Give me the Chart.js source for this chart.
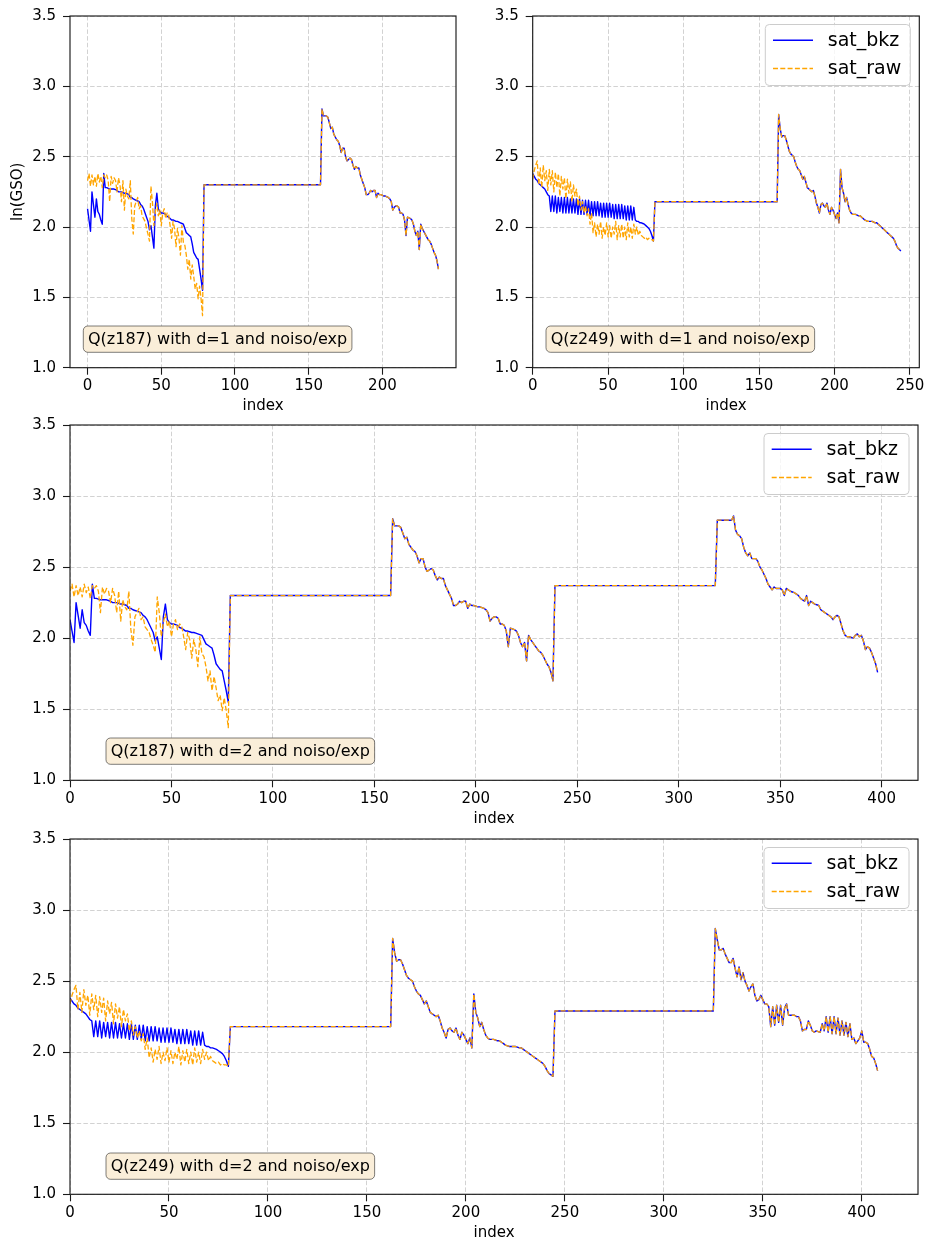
<!DOCTYPE html>
<html>
<head>
<meta charset="utf-8">
<title>sat_bkz vs sat_raw</title>
<script src="https://cdn.jsdelivr.net/npm/chart.js@4.4.1/dist/chart.umd.min.js"></script>
<style>
  body { margin: 0; background: #fff; }
  #fig { position: relative; width: 928px; height: 1246px; }
  #fig canvas { position: absolute; left: 0; top: 0; }
</style>
</head>
<body>
<div id="fig">
  <canvas id="c1" width="928" height="1246"></canvas>
  <canvas id="c2" width="928" height="1246"></canvas>
  <canvas id="c3" width="928" height="1246"></canvas>
  <canvas id="c4" width="928" height="1246"></canvas>
</div>
<script>
// ---- data ----
// Q(z187): noisy head (index 0..78), flat 79..158, tail 159..238, flat 239..318, tail 319..398
const z187HeadBkz = [2.13, 2.05, 1.97, 2.25, 2.16, 2.07, 2.20, 2.11, 2.09, 2.05,
  2.02, 2.38, 2.28, 2.28, 2.275, 2.27, 2.27, 2.27, 2.27, 2.265,
  2.26, 2.25, 2.25, 2.25, 2.245, 2.24, 2.24, 2.235, 2.23, 2.21,
  2.21, 2.20, 2.195, 2.19, 2.185, 2.18, 2.16, 2.15, 2.13, 2.10,
  2.07, 2.04, 1.98, 2.01, 1.93, 1.85, 2.15, 2.24, 2.13, 2.11,
  2.10, 2.10, 2.095, 2.09, 2.075, 2.07, 2.06, 2.05, 2.05, 2.045,
  2.04, 2.04, 2.035, 2.03, 2.025, 2.02, 1.99, 1.96, 1.95, 1.94,
  1.93, 1.88, 1.82, 1.80, 1.78, 1.77, 1.70, 1.63, 1.55]
const z187HeadRaw = [2.33, 2.38, 2.29, 2.37, 2.30, 2.36, 2.29, 2.38, 2.32, 2.36,
  2.28, 2.37, 2.35, 2.37, 2.33, 2.18, 2.36, 2.31, 2.35, 2.33,
  2.25, 2.35, 2.30, 2.18, 2.33, 2.12, 2.27, 2.22, 2.20, 2.33,
  2.06, 1.95, 2.15, 2.18, 2.21, 2.13, 2.15, 2.08, 2.06, 2.04,
  1.99, 1.95, 1.90, 2.29, 2.18, 2.01, 2.11, 2.17, 2.08, 2.12,
  2.01, 2.10, 2.13, 2.06, 2.10, 2.09, 2.01, 1.92, 2.04, 1.99,
  1.86, 1.99, 1.92, 1.80, 2.01, 1.89, 1.87, 1.80, 1.70, 1.77,
  1.63, 1.73, 1.65, 1.56, 1.60, 1.49, 1.58, 1.49, 1.37]
const z187Tail1 = [2.84, 2.79, 2.79, 2.79, 2.78, 2.74, 2.70, 2.71, 2.66, 2.64,
  2.62, 2.61, 2.58, 2.53, 2.56, 2.56, 2.50, 2.47, 2.48, 2.49,
  2.48, 2.44, 2.41, 2.43, 2.42, 2.42, 2.37, 2.34, 2.31, 2.28,
  2.23, 2.23, 2.24, 2.26, 2.25, 2.26, 2.26, 2.21, 2.24, 2.23,
  2.23, 2.225, 2.22, 2.22, 2.215, 2.21, 2.20, 2.18, 2.12, 2.14,
  2.15, 2.15, 2.14, 2.10, 2.10, 2.09, 2.05, 1.94, 2.07, 2.065,
  2.06, 2.05, 2.02, 1.97, 1.94, 1.97, 1.84, 2.02, 1.99, 1.97,
  1.95, 1.93, 1.91, 1.90, 1.88, 1.85, 1.82, 1.80, 1.76, 1.70]
const z187Tail2 = [2.83, 2.83, 2.83, 2.83, 2.83, 2.83, 2.83, 2.83, 2.86, 2.76,
  2.73, 2.72, 2.70, 2.64, 2.60, 2.58, 2.60, 2.56, 2.56, 2.56,
  2.54, 2.50, 2.48, 2.45, 2.42, 2.38, 2.36, 2.34, 2.36, 2.35,
  2.35, 2.35, 2.34, 2.30, 2.35, 2.34, 2.33, 2.325, 2.32, 2.31,
  2.30, 2.28, 2.27, 2.26, 2.30, 2.23, 2.26, 2.25, 2.24, 2.235,
  2.23, 2.20, 2.19, 2.18, 2.17, 2.16, 2.15, 2.13, 2.15, 2.16,
  2.15, 2.10, 2.05, 2.02, 2.01, 2.01, 2.005, 2.00, 2.02, 2.03,
  2.01, 2.02, 1.98, 1.92, 1.94, 1.93, 1.90, 1.86, 1.82, 1.76]
const z187Starts = [0, 79, 159, 239, 319]   // first index of each block
const z187Flats = [2.30, 2.37]

// Q(z249): noisy head (0..80), flat 81..162, tail 163..244, flat 245..325, tail 326..408
const z249HeadBkz = [2.38, 2.36, 2.34, 2.33, 2.31, 2.30, 2.29, 2.28, 2.27, 2.25,
  2.23, 2.22, 2.11, 2.22, 2.11, 2.22, 2.10, 2.21, 2.11, 2.21,
  2.10, 2.21, 2.10, 2.21, 2.10, 2.20, 2.10, 2.20, 2.10, 2.20,
  2.09, 2.20, 2.09, 2.19, 2.09, 2.19, 2.09, 2.19, 2.08, 2.18,
  2.08, 2.18, 2.08, 2.18, 2.08, 2.17, 2.07, 2.17, 2.07, 2.17,
  2.07, 2.17, 2.07, 2.16, 2.06, 2.16, 2.06, 2.16, 2.06, 2.16,
  2.06, 2.15, 2.05, 2.15, 2.05, 2.15, 2.05, 2.14, 2.05, 2.04,
  2.04, 2.03, 2.03, 2.025, 2.02, 2.01, 2.00, 1.99, 1.97, 1.94,
  1.90]
const z249HeadRaw = [2.34, 2.40, 2.44, 2.47, 2.30, 2.42, 2.28, 2.44, 2.33, 2.40,
  2.26, 2.41, 2.30, 2.40, 2.25, 2.39, 2.28, 2.38, 2.22, 2.36,
  2.27, 2.35, 2.20, 2.34, 2.24, 2.32, 2.18, 2.30, 2.22, 2.27,
  2.15, 2.22, 2.12, 2.18, 2.10, 2.15, 2.08, 2.13, 2.02, 2.10,
  1.96, 2.03, 1.93, 2.02, 1.95, 2.04, 1.92, 2.00, 1.94, 2.03,
  1.93, 2.01, 1.92, 2.00, 1.95, 2.04, 1.91, 2.01, 1.93, 2.02,
  1.92, 2.00, 1.91, 2.03, 1.93, 2.00, 1.92, 2.02, 1.95, 2.00,
  1.94, 1.97, 1.94, 1.93, 1.92, 1.93, 1.91, 1.92, 1.91, 1.91,
  1.90]
const z249Tail1 = [2.80, 2.70, 2.64, 2.65, 2.65, 2.62, 2.58, 2.54, 2.52, 2.51,
  2.50, 2.46, 2.43, 2.41, 2.40, 2.37, 2.34, 2.36, 2.32, 2.28,
  2.27, 2.26, 2.25, 2.26, 2.22, 2.17, 2.14, 2.10, 2.16, 2.17,
  2.15, 2.14, 2.17, 2.12, 2.09, 2.14, 2.12, 2.09, 2.06, 2.10,
  2.03, 2.41, 2.28, 2.24, 2.18, 2.21, 2.16, 2.12, 2.10, 2.09,
  2.09, 2.09, 2.085, 2.08, 2.08, 2.07, 2.06, 2.05, 2.045, 2.04,
  2.04, 2.04, 2.04, 2.035, 2.03, 2.03, 2.02, 2.01, 2.00, 1.99,
  1.98, 1.97, 1.96, 1.95, 1.94, 1.93, 1.92, 1.90, 1.87, 1.85,
  1.84, 1.83]
const z249Tail2 = [2.87, 2.79, 2.72, 2.72, 2.73, 2.69, 2.66, 2.63, 2.63, 2.66,
  2.59, 2.53, 2.60, 2.51, 2.56, 2.50, 2.47, 2.43, 2.46, 2.48,
  2.40, 2.36, 2.37, 2.40, 2.37, 2.34, 2.34, 2.32, 2.18, 2.32,
  2.19, 2.33, 2.21, 2.33, 2.19, 2.31, 2.34, 2.26, 2.26, 2.26,
  2.26, 2.25, 2.25, 2.22, 2.15, 2.16, 2.16, 2.22, 2.19, 2.15,
  2.14, 2.15, 2.145, 2.14, 2.20, 2.15, 2.25, 2.14, 2.25, 2.13,
  2.25, 2.13, 2.24, 2.12, 2.22, 2.12, 2.21, 2.11, 2.20, 2.09,
  2.10, 2.06, 2.08, 2.10, 2.15, 2.07, 2.07, 2.06, 2.02, 1.97,
  1.96, 1.92, 1.87]
const z249Starts = [0, 81, 163, 245, 326]
const z249Flats = [2.18, 2.29]

const yTicks = [1.0, 1.5, 2.0, 2.5, 3.0, 3.5]
const xTicksShort = [0, 50, 100, 150, 200]
const xTicksShort2 = [0, 50, 100, 150, 200, 250]
const xTicksLong = [0, 50, 100, 150, 200, 250, 300, 350, 400]
const seriesNames = ['sat_bkz', 'sat_raw']

// ---- build point lists ----
function block(start, values) {
  return values.map((v, i) => ({ x: start + i, y: v }))
}
function flatBlock(start, nextStart, level) {
  return [{ x: start, y: level }, { x: nextStart - 1, y: level }]
}
function buildSeries(starts, head, flats, tails, nBlocks) {
  let pts = block(starts[0], head)
  for (let k = 1; k < nBlocks; k += 2) {
    pts = pts.concat(flatBlock(starts[k], starts[k + 1], flats[(k - 1) / 2]))
    pts = pts.concat(block(starts[k + 1], tails[(k - 1) / 2]))
  }
  return pts
}

const FONT = 'DejaVu Sans'
const TICK_SIZE = 15
Chart.defaults.font.family = FONT
Chart.defaults.font.size = TICK_SIZE
Chart.defaults.color = '#000'

function roundRect(ctx, x, y, w, h, r) {
  ctx.beginPath()
  ctx.moveTo(x + r, y)
  ctx.arcTo(x + w, y, x + w, y + h, r)
  ctx.arcTo(x + w, y + h, x, y + h, r)
  ctx.arcTo(x, y + h, x, y, r)
  ctx.arcTo(x, y, x + w, y, r)
  ctx.closePath()
}

// axes frame (all four spines)
const framePlugin = {
  id: 'frame',
  afterDatasetsDraw(chart) {
    const { ctx, chartArea: a } = chart
    ctx.save()
    ctx.strokeStyle = '#1a1a1a'
    ctx.lineWidth = 1.15
    ctx.strokeRect(a.left, a.top, a.right - a.left, a.bottom - a.top)
    ctx.restore()
  }
}

// matplotlib-like legend in the upper right corner
const legendPlugin = {
  id: 'figLegend',
  afterDraw(chart, args, opts) {
    if (!opts.show) return
    const { ctx, chartArea: a } = chart
    const w = 145, h = 61
    const x = a.right - 9 - w, y = a.top + 8.5
    ctx.save()
    roundRect(ctx, x, y, w, h, 4)
    ctx.fillStyle = 'rgba(255,255,255,0.8)'
    ctx.fill()
    ctx.strokeStyle = '#cccccc'
    ctx.lineWidth = 1
    ctx.stroke()
    ctx.font = `19px ${FONT}`
    ctx.textBaseline = 'middle'
    seriesNames.forEach((name, k) => {
      const ds = chart.data.datasets.find(d => d.label === name)
      const ry = y + 15.7 + k * 28.3
      ctx.beginPath()
      ctx.setLineDash(ds.borderDash || [])
      ctx.strokeStyle = ds.borderColor
      ctx.lineWidth = ds.borderWidth
      ctx.moveTo(x + 7.7, ry)
      ctx.lineTo(x + 47.7, ry)
      ctx.stroke()
      ctx.setLineDash([])
      ctx.fillStyle = '#000'
      ctx.fillText(name, x + 62.5, ry + 1)
    })
    ctx.restore()
  }
}

// wheat annotation box
const notePlugin = {
  id: 'noteBox',
  afterDraw(chart, args, o) {
    if (!o.text) return
    const { ctx } = chart
    ctx.save()
    ctx.font = `16px ${FONT}`
    const pad = 4.7
    const w = ctx.measureText(o.text).width + 2 * pad
    const h = 26.3
    roundRect(ctx, o.x, o.y, w, h, 4.5)
    ctx.fillStyle = 'rgb(250,238,217)'
    ctx.fill()
    ctx.strokeStyle = 'rgba(0,0,0,0.5)'
    ctx.lineWidth = 1
    ctx.stroke()
    ctx.fillStyle = '#000'
    ctx.textBaseline = 'middle'
    ctx.fillText(o.text, o.x + pad, o.y + h / 2 + 0.5)
    ctx.restore()
  }
}

function makeChart(id, p) {
  const yW = p.yTitle ? 70 : 62
  const xH = 50
  return new Chart(document.getElementById(id), {
    type: 'line',
    data: {
      datasets: [
        { label: seriesNames[0], data: p.bkz, borderColor: '#0000ff', borderWidth: 1.4, order: 1 },
        { label: seriesNames[1], data: p.raw, borderColor: '#ffa500', borderWidth: 1.3, borderDash: [5, 2.3], order: 0 }
      ]
    },
    options: {
      responsive: false,
      animation: false,
      devicePixelRatio: 1,
      events: [],
      layout: {
        padding: { left: p.area.l - yW, right: 928 - p.area.r, top: p.area.t, bottom: 1246 - p.area.b - xH }
      },
      elements: {
        point: { radius: 0 },
        line: { tension: 0, borderJoinStyle: 'round', fill: false }
      },
      plugins: {
        legend: { display: false },
        tooltip: { enabled: false },
        figLegend: { show: p.legend },
        noteBox: { text: p.note, x: p.noteX, y: p.noteY }
      },
      scales: {
        x: {
          type: 'linear',
          min: p.xMin,
          max: p.xMax,
          afterBuildTicks: s => { s.ticks = p.xTicks.map(v => ({ value: v })) },
          afterFit: s => { s.height = xH },
          ticks: { padding: 2.4, maxRotation: 0, autoSkip: false, callback: v => String(v) },
          grid: { color: '#d2d2d2', lineWidth: 1, tickColor: '#1a1a1a', tickLength: 7, tickWidth: 1.1 },
          border: { display: false, dash: [4.5, 2.2] },
          title: { display: true, text: 'index', font: { size: TICK_SIZE }, padding: { top: 0, bottom: 2.6 } }
        },
        y: {
          min: 1,
          max: 3.5,
          afterBuildTicks: s => { s.ticks = yTicks.map(v => ({ value: v })) },
          afterFit: s => { s.width = yW },
          ticks: { padding: 7, callback: v => v.toFixed(1) },
          grid: { color: '#d2d2d2', lineWidth: 1, tickColor: '#1a1a1a', tickLength: 7, tickWidth: 1.1 },
          border: { display: false, dash: [4.5, 2.2] },
          title: { display: p.yTitle, text: 'ln(GSO)', font: { size: TICK_SIZE }, padding: { top: 9.3, bottom: 0 } }
        }
      }
    },
    plugins: [framePlugin, legendPlugin, notePlugin]
  })
}

makeChart('c1', {
  area: { l: 70, r: 456, t: 12.3, b: 367.7 },
  xMin: -11.9, xMax: 249.9, xTicks: xTicksShort,
  bkz: buildSeries(z187Starts, z187HeadBkz, z187Flats, [z187Tail1], 3),
  raw: buildSeries(z187Starts, z187HeadRaw, z187Flats, [z187Tail1], 3),
  legend: false, yTitle: true,
  note: 'Q(z187) with d=1 and noiso/exp', noteX: 83.3, noteY: 326
})
makeChart('c2', {
  area: { l: 532.7, r: 919.3, t: 12.3, b: 367.7 },
  xMin: 0, xMax: 256.2, xTicks: xTicksShort2,
  bkz: buildSeries(z249Starts, z249HeadBkz, z249Flats, [z249Tail1], 3),
  raw: buildSeries(z249Starts, z249HeadRaw, z249Flats, [z249Tail1], 3),
  legend: true, yTitle: false,
  note: 'Q(z249) with d=1 and noiso/exp', noteX: 546, noteY: 326
})
makeChart('c3', {
  area: { l: 70, r: 918, t: 425, b: 780.3 },
  xMin: 0, xMax: 417.9, xTicks: xTicksLong,
  bkz: buildSeries(z187Starts, z187HeadBkz, z187Flats, [z187Tail1, z187Tail2], 5),
  raw: buildSeries(z187Starts, z187HeadRaw, z187Flats, [z187Tail1, z187Tail2], 5),
  legend: true, yTitle: false,
  note: 'Q(z187) with d=2 and noiso/exp', noteX: 106, noteY: 738
})
makeChart('c4', {
  area: { l: 70, r: 918, t: 839, b: 1194.3 },
  xMin: 0, xMax: 428.4, xTicks: xTicksLong,
  bkz: buildSeries(z249Starts, z249HeadBkz, z249Flats, [z249Tail1, z249Tail2], 5),
  raw: buildSeries(z249Starts, z249HeadRaw, z249Flats, [z249Tail1, z249Tail2], 5),
  legend: true, yTitle: false,
  note: 'Q(z249) with d=2 and noiso/exp', noteX: 106, noteY: 1153
})
</script>
</body>
</html>
